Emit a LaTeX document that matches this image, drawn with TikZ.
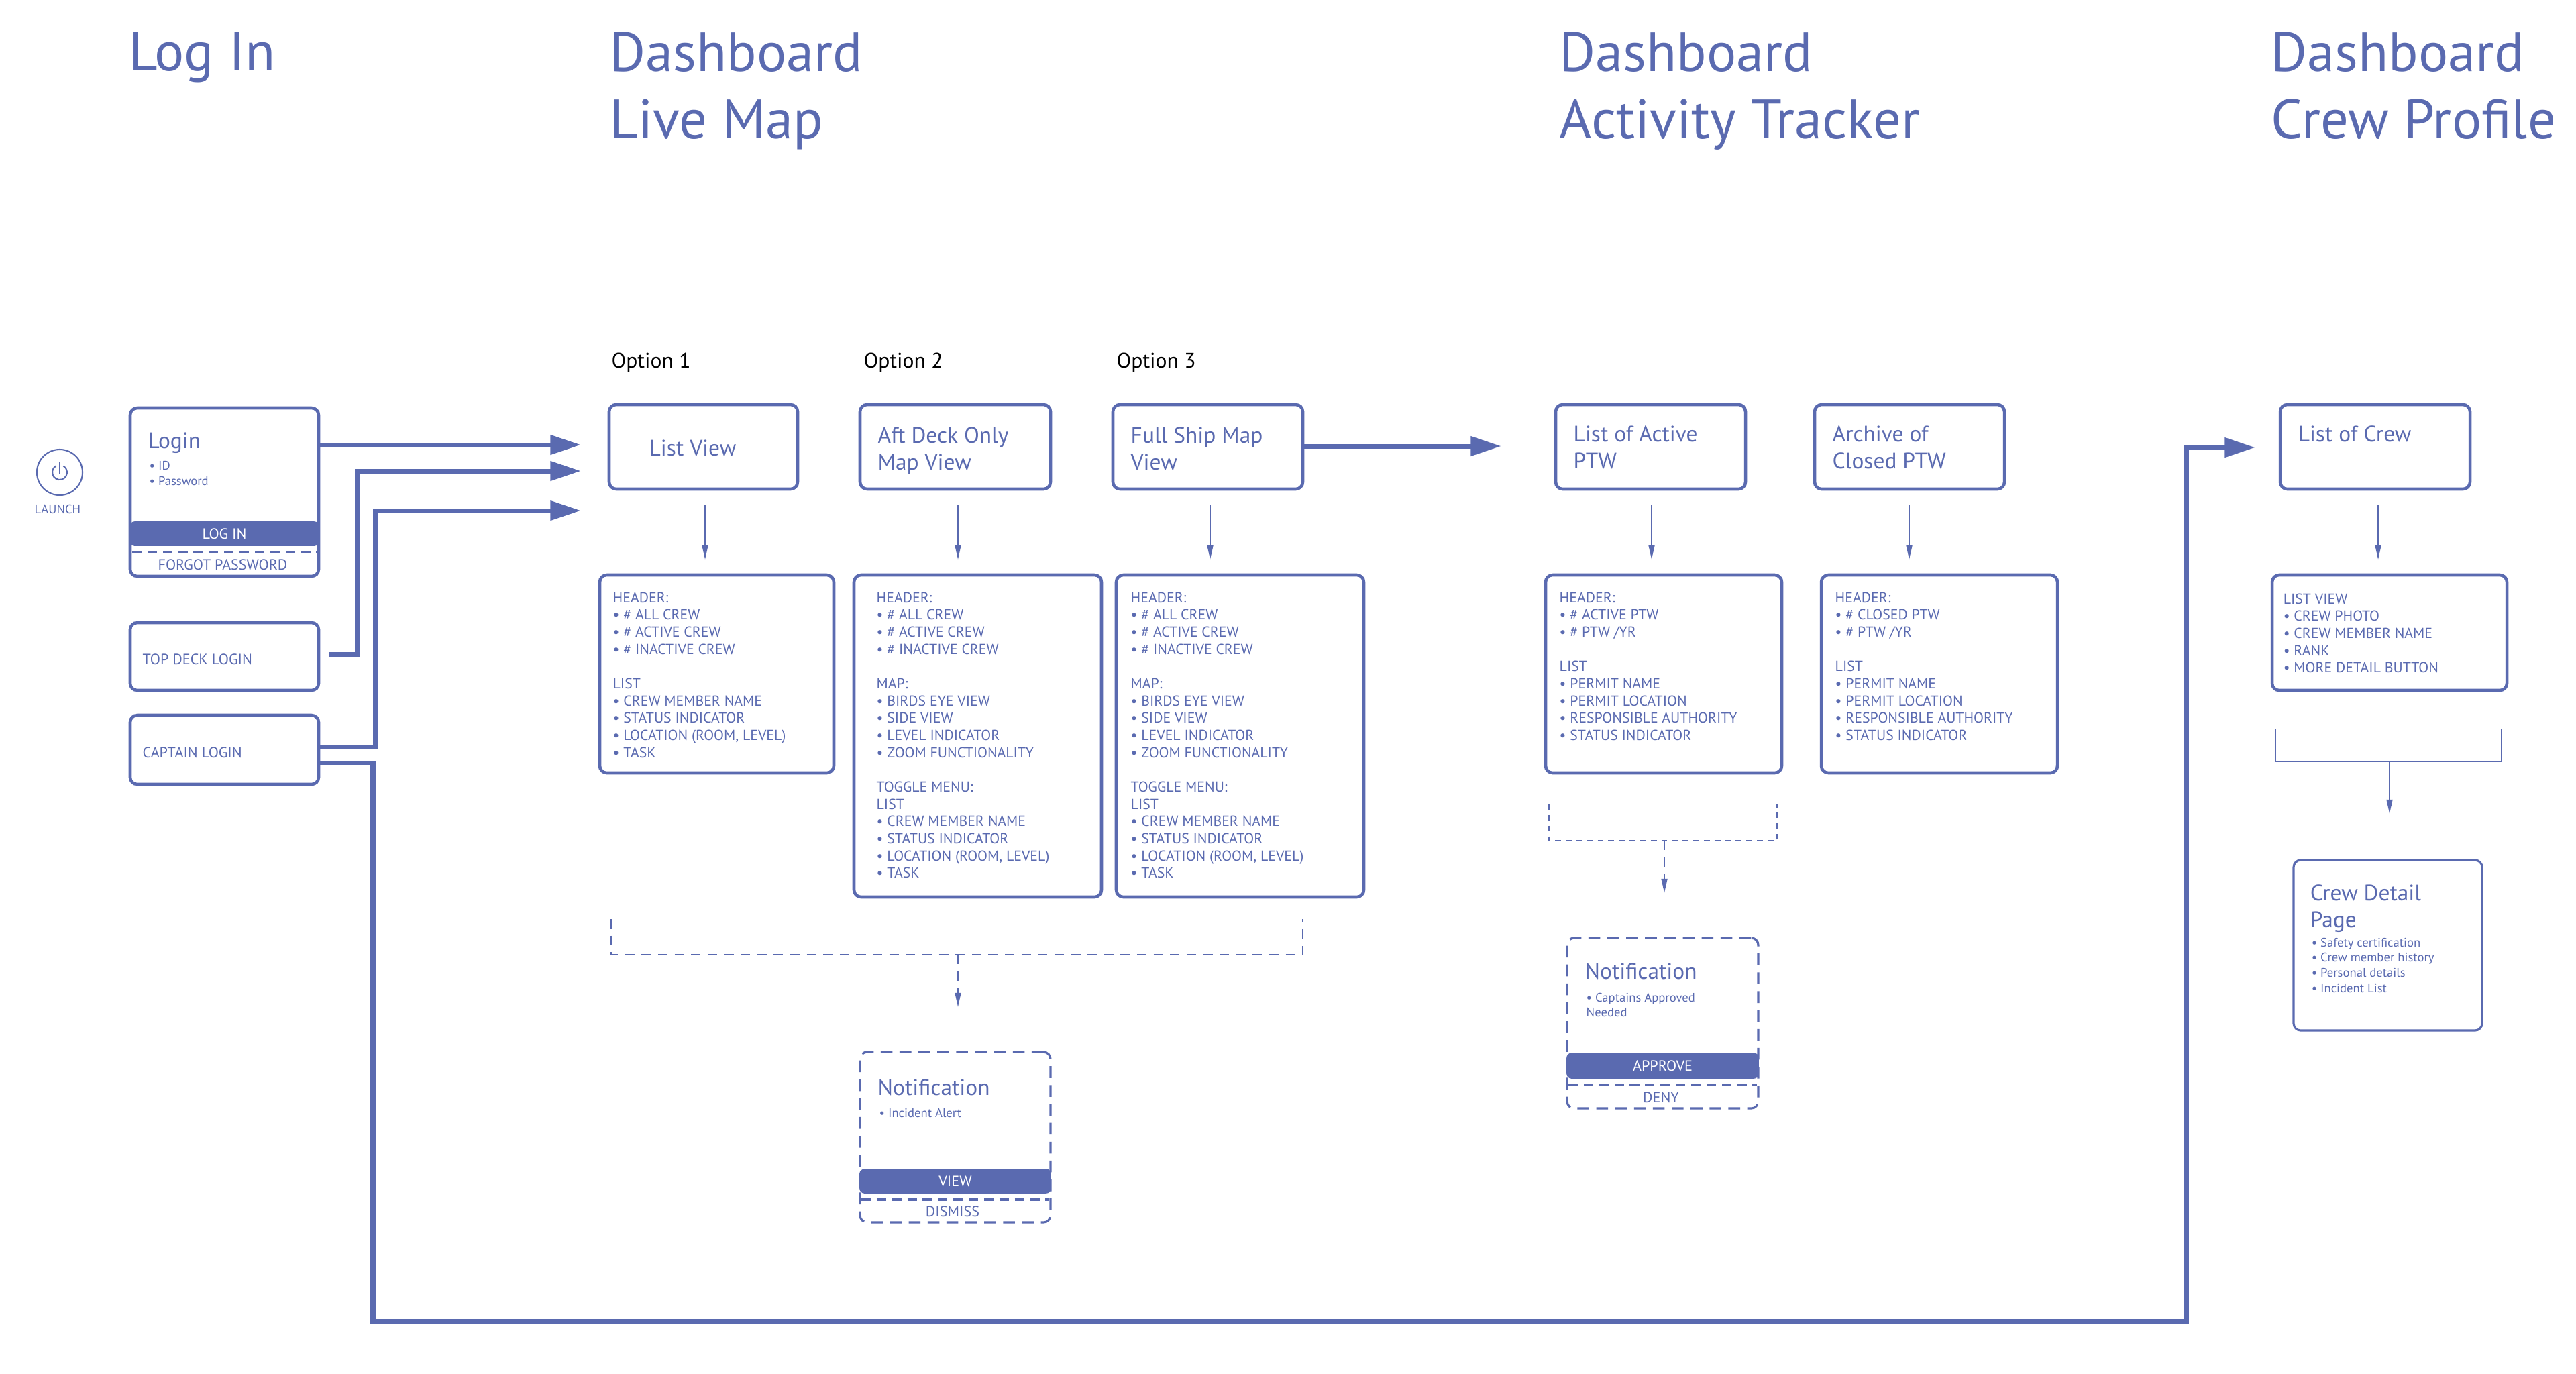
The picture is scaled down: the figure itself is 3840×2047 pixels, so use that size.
\documentclass[tikz,border=0pt]{standalone}
\usepackage{fontspec}
\setmainfont{PT Sans}
\usetikzlibrary{fit,arrows.meta}
\definecolor{bl}{RGB}{90,106,176}
\begin{document}
\begin{tikzpicture}[x=0.01cm,y=-0.01cm,
  box/.style={draw=bl,line width=1.3pt,rounded corners=3pt,inner sep=0pt},
  dbox/.style={draw=bl,line width=0.9pt,dash pattern=on 5pt off 3pt,rounded corners=3pt,inner sep=0pt},
  ttl/.style={anchor=north west,inner sep=0pt,text=bl,font=\fontsize{23.5}{28.5}\selectfont,align=left},
  btl/.style={anchor=north west,inner sep=0pt,text=bl,font=\fontsize{9.5}{11.5}\selectfont,align=left},
  sm/.style={anchor=north west,inner sep=0pt,text=bl,font=\fontsize{6.2}{7.3}\selectfont,align=left},
  tiny/.style={inner sep=0pt,text=bl,font=\fontsize{5.3}{6.5}\selectfont,align=left},
  opt/.style={anchor=north west,inner sep=0pt,font=\fontsize{9}{11}\selectfont},
  bar/.style={fill=bl,draw=bl,line width=0.5pt,rounded corners=2pt,inner sep=0pt},
  big/.style={draw=bl,line width=2pt,-{Triangle[length=13pt,width=8pt]}},
  thin/.style={draw=bl,line width=0.6pt,-{Triangle[length=6pt,width=2.5pt]}},
  dthin/.style={draw=bl,line width=0.6pt,dash pattern=on 4pt off 3pt},
  sthin/.style={draw=bl,line width=0.5pt}]
\useasboundingbox (0,0) rectangle (3840,2047);
% titles
\node[ttl] (t1) at (192,47) {Log In};
\node[ttl] (t2) at (908,47) {Dashboard\\Live Map};
\node[ttl] (t3) at (2324,47) {Dashboard\\Activity Tracker};
\node[ttl] (t4) at (3385,47) {Dashboard\\Crew Profile};
% launch
\node[draw=bl,line width=0.6pt,circle,minimum size=0.68cm,inner sep=0pt] (launch) at (89,704) {};
\draw[bl,line width=0.6pt] (launch.center)++(60:0.11cm) arc (60:-240:0.11cm);
\draw[bl,line width=0.6pt] (89,688) -- (89,706);
\node[tiny,anchor=north] (launchl) at (86,752) {LAUNCH};
% login
\node[box,fit={(194,608)(475,859)}] (login) {};
\node[btl] (loginl) at (220,644) {Login};
\node[tiny,anchor=north west] (logini) at (222,687) {• ID\\• Password};
\node[bar,fit={(194,778)(475,813)}] (logbtn) {};
\node[inner sep=0,text=white,font=\fontsize{6.3}{7}\selectfont] (logbtnl) at (logbtn) {LOG IN};
\draw[bl,line width=1.2pt,dash pattern=on 4pt off 2.5pt] (197,823) -- (472,823);
\node[inner sep=0,text=bl,font=\fontsize{6.3}{7}\selectfont] (forgot) at (332,842) {FORGOT PASSWORD};
\node[box,fit={(194,928)(475,1029)}] (top) {};
\node[inner sep=0,text=bl,font=\fontsize{6.3}{7}\selectfont,anchor=west] (topl) at (212,983) {TOP DECK LOGIN};
\node[box,fit={(194,1066)(475,1169)}] (cap) {};
\node[inner sep=0,text=bl,font=\fontsize{6.3}{7}\selectfont,anchor=west] (capl) at (212,1122) {CAPTAIN LOGIN};
% arrows into live map
\coordinate (a1) at (866,663);
\coordinate (a2) at (866,702);
\coordinate (a3) at (866,761);
\coordinate (a4) at (3362,667);
\draw[big] (login.east|-a1) -- (a1);
\draw[big] (490,975) -- (533,975) -- (533,702) -- (a2);
\draw[big] (cap.east|-0,1113) -- (560,1113) -- (560,761) -- (a3);
\draw[big] (cap.east|-0,1137) -- (556,1137) -- (556,1969) -- (3259,1969) -- (3259,667) -- (a4);
% options
\node[opt] (o1) at (911,525) {Option 1};
\node[opt] (o2) at (1287,525) {Option 2};
\node[opt] (o3) at (1664,525) {Option 3};
% live map boxes
\node[box,fit={(908,603)(1189,729)}] (lv) {};
\node[btl,anchor=west] (lvl) at (967,668) {List View};
\node[box,fit={(1282,603)(1566,729)}] (ad) {};
\node[btl] (adl) at (1308,636) {Aft Deck Only\\Map View};
\node[box,fit={(1659,603)(1942,729)}] (fs) {};
\node[btl] (fsl) at (1685,636) {Full Ship Map\\View};
\coordinate (a5) at (2238,665);
\draw[big] (fs.east|-a5) -- (a5);
\draw[thin] (1051,753) -- (1051,834);
\draw[thin] (1428,753) -- (1428,834);
\draw[thin] (1804,753) -- (1804,834);
\node[box,fit={(894,857)(1243,1152)}] (d1) {};
\node[sm] (d1t) at (913,882) {HEADER:\\• \# ALL CREW\\• \# ACTIVE CREW\\• \# INACTIVE CREW\\[7.3pt]LIST\\• CREW MEMBER NAME\\• STATUS INDICATOR\\• LOCATION (ROOM, LEVEL)\\• TASK};
\node[box,fit={(1273,857)(1642,1337)}] (d2) {};
\node[sm] (d2t) at (1306,882) {HEADER:\\• \# ALL CREW\\• \# ACTIVE CREW\\• \# INACTIVE CREW\\[7.3pt]MAP:\\• BIRDS EYE VIEW\\• SIDE VIEW\\• LEVEL INDICATOR\\• ZOOM FUNCTIONALITY\\[7.3pt]TOGGLE MENU:\\LIST\\• CREW MEMBER NAME\\• STATUS INDICATOR\\• LOCATION (ROOM, LEVEL)\\• TASK};
\node[box,fit={(1664,857)(2033,1337)}] (d3) {};
\node[sm] (d3t) at (1685,882) {HEADER:\\• \# ALL CREW\\• \# ACTIVE CREW\\• \# INACTIVE CREW\\[7.3pt]MAP:\\• BIRDS EYE VIEW\\• SIDE VIEW\\• LEVEL INDICATOR\\• ZOOM FUNCTIONALITY\\[7.3pt]TOGGLE MENU:\\LIST\\• CREW MEMBER NAME\\• STATUS INDICATOR\\• LOCATION (ROOM, LEVEL)\\• TASK};
\draw[dthin] (911,1370) -- (911,1423) -- (1942,1423) -- (1942,1370);
\draw[dthin] (1428,1423) -- (1428,1485);
\draw[bl,-{Triangle[length=6pt,width=2.5pt]},line width=0.6pt] (1428,1480) -- (1428,1501);
\node[dbox,fit={(1282,1568)(1566,1822)}] (n1) {};
\node[btl] (n1l) at (1308,1608) {Notification};
\node[tiny,anchor=north west] (n1b) at (1310,1652) {• Incident Alert};
\node[bar,fit={(1282,1743)(1566,1778)}] (vbtn) {};
\node[inner sep=0,text=white,font=\fontsize{6.3}{7}\selectfont] (vbtnl) at (vbtn) {VIEW};
\draw[bl,line width=1.2pt,dash pattern=on 4pt off 2.5pt] (1284,1788) -- (1564,1788);
\node[inner sep=0,text=bl,font=\fontsize{6.3}{7}\selectfont] (dism) at (1420,1806) {DISMISS};
% activity tracker
\node[box,fit={(2319,603)(2602,729)}] (ap) {};
\node[btl] (apl) at (2345,634) {List of Active\\PTW};
\node[box,fit={(2705,603)(2988,729)}] (cp) {};
\node[btl] (cpl) at (2731,634) {Archive of\\Closed PTW};
\draw[thin] (2462,753) -- (2462,834);
\draw[thin] (2846,753) -- (2846,834);
\node[box,fit={(2304,857)(2656,1152)}] (d4) {};
\node[sm] (d4t) at (2324,882) {HEADER:\\• \# ACTIVE PTW\\• \# PTW /YR\\[7.3pt]LIST\\• PERMIT NAME\\• PERMIT LOCATION\\• RESPONSIBLE AUTHORITY\\• STATUS INDICATOR};
\node[box,fit={(2715,857)(3067,1152)}] (d5) {};
\node[sm] (d5t) at (2735,882) {HEADER:\\• \# CLOSED PTW\\• \# PTW /YR\\[7.3pt]LIST\\• PERMIT NAME\\• PERMIT LOCATION\\• RESPONSIBLE AUTHORITY\\• STATUS INDICATOR};
\draw[dthin,dash pattern=on 2.5pt off 2pt] (2309,1199) -- (2309,1253) -- (2649,1253) -- (2649,1199);
\draw[dthin] (2481,1253) -- (2481,1315);
\draw[bl,-{Triangle[length=6pt,width=2.5pt]},line width=0.6pt] (2481,1310) -- (2481,1331);
\node[dbox,fit={(2336,1398)(2621,1652)}] (n2) {};
\node[btl] (n2l) at (2362,1435) {Notification};
\node[tiny,anchor=north west] (n2b) at (2364,1479) {• Captains Approved\\Needed};
\node[bar,fit={(2336,1570)(2621,1607)}] (abtn) {};
\node[inner sep=0,text=white,font=\fontsize{6.3}{7}\selectfont] (abtnl) at (abtn) {APPROVE};
\draw[bl,line width=1.2pt,dash pattern=on 4pt off 2.5pt] (2338,1617) -- (2619,1617);
\node[inner sep=0,text=bl,font=\fontsize{6.3}{7}\selectfont] (deny) at (2476,1636) {DENY};
% crew profile
\node[box,fit={(3399,603)(3682,729)}] (lc) {};
\node[btl] (lcl) at (3425,634) {List of Crew};
\draw[thin] (3545,753) -- (3545,834);
\node[box,fit={(3387,857)(3737,1029)}] (d6) {};
\node[sm] (d6t) at (3403,884) {LIST VIEW\\• CREW PHOTO\\• CREW MEMBER NAME\\• RANK\\• MORE DETAIL BUTTON};
\draw[sthin] (3392,1086) -- (3392,1135) -- (3729,1135) -- (3729,1086);
\draw[thin] (3562,1135) -- (3562,1213);
\node[box,line width=0.9pt,fit={(3419,1282)(3700,1536)}] (cd) {};
\node[btl] (cdl) at (3443,1318) {Crew Detail\\Page};
\node[tiny,anchor=north west] (cdt) at (3445,1397) {• Safety certification\\• Crew member history\\• Personal details\\• Incident List};
\end{tikzpicture}
\end{document}
